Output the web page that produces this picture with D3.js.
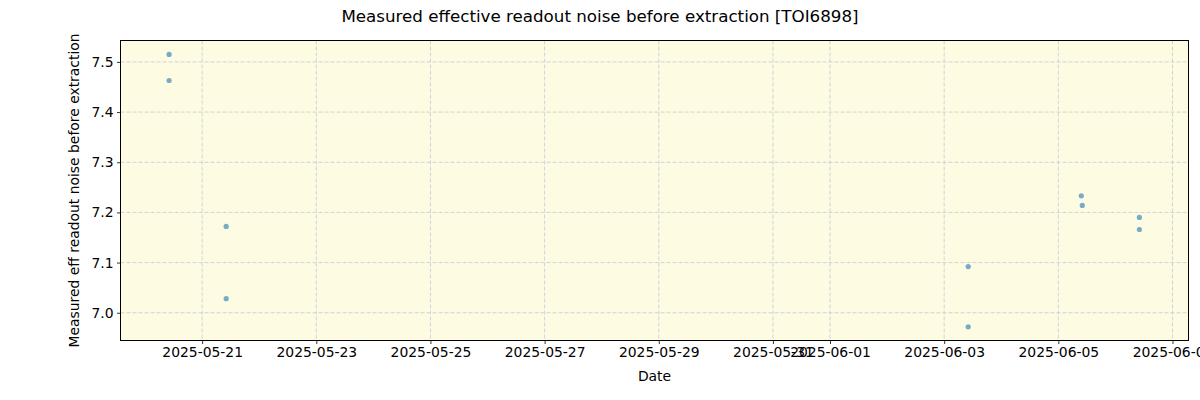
<html>
<head>
<script src="https://d3js.org/d3.v7.min.js"></script>
<style>
  body { margin: 0; background: #fff; }
  text { font-family: "DejaVu Sans", sans-serif; fill: #000; }
</style>
</head>
<body>
<div id="chart"></div>
<script>
    // observation times and measured values
    var times = [
        '2025-05-20T10:06', '2025-05-20T10:06',
        '2025-05-21T10:06', '2025-05-21T10:06',
        '2025-06-03T10:06', '2025-06-03T10:06',
        '2025-06-05T09:40', '2025-06-05T10:05',
        '2025-06-06T10:05', '2025-06-06T10:05'
    ];
    var noise = [7.515, 7.463, 7.172, 7.028, 7.092, 6.972, 7.233, 7.214, 7.190, 7.166];
    var xTicks = ['2025-05-21', '2025-05-23', '2025-05-25', '2025-05-27', '2025-05-29',
                  '2025-05-31', '2025-06-01', '2025-06-03', '2025-06-05', '2025-06-07'];
    var yTicks = [7.0, 7.1, 7.2, 7.3, 7.4, 7.5];

    var width = 1200, height = 400;
    var pLeft = 120.5, pRight = 1188.5, pTop = 40.5, pBottom = 340.5;

    var parse = d3.timeParse('%Y-%m-%dT%H:%M');
    var parseDay = d3.timeParse('%Y-%m-%d');

    var svg = d3.select('#chart').append('svg').attr('width', width).attr('height', height);

    var x = d3.scaleTime()
        .domain([parse('2025-05-19T13:40'), parse('2025-06-07T06:44')])
        .range([pLeft, pRight]);
    var y = d3.scaleLinear().domain([6.9447, 7.5427]).range([pBottom, pTop]);

    svg.append('rect').attr('x', pLeft).attr('y', pTop)
        .attr('width', pRight - pLeft).attr('height', pBottom - pTop)
        .attr('fill', '#fdfbe2');

    // grid
    svg.append('g').selectAll('line').data(xTicks).enter().append('line')
        .attr('x1', d => x(parseDay(d))).attr('x2', d => x(parseDay(d)))
        .attr('y1', pTop).attr('y2', pBottom)
        .attr('stroke', '#c8c8d4').attr('stroke-width', 0.8).attr('stroke-dasharray', '4,2');
    svg.append('g').selectAll('line').data(yTicks).enter().append('line')
        .attr('x1', pLeft).attr('x2', pRight)
        .attr('y1', d => y(d)).attr('y2', d => y(d))
        .attr('stroke', '#c8c8d4').attr('stroke-width', 0.8).attr('stroke-dasharray', '4,2');

    // points
    svg.append('g').selectAll('circle').data(noise).enter().append('circle')
        .attr('cx', (d, i) => x(parse(times[i])))
        .attr('cy', d => y(d))
        .attr('r', 2.6)
        .attr('fill', '#1f77b4').attr('fill-opacity', 0.6);

    // axes
    var xAxis = svg.append('g').attr('transform', `translate(0,${pBottom})`)
        .call(d3.axisBottom(x).tickValues(xTicks.map(parseDay))
            .tickFormat(d3.timeFormat('%Y-%m-%d')).tickSize(3.5).tickPadding(3.5));
    var yAxis = svg.append('g').attr('transform', `translate(${pLeft},0)`)
        .call(d3.axisLeft(y).tickValues(yTicks).tickFormat(d3.format('.1f'))
            .tickSize(3.5).tickPadding(3.5));
    [xAxis, yAxis].forEach(function(a) {
        a.select('.domain').remove();
        a.selectAll('text').style('font-size', '13.9px').style('font-family', '"DejaVu Sans", sans-serif');
        a.selectAll('line').attr('stroke', '#000').attr('stroke-width', 0.8);
    });

    svg.append('rect').attr('x', pLeft).attr('y', pTop)
        .attr('width', pRight - pLeft).attr('height', pBottom - pTop)
        .attr('fill', 'none').attr('stroke', '#000').attr('stroke-width', 1);

    svg.append('text').attr('x', 600).attr('y', 22)
        .attr('text-anchor', 'middle').style('font-size', '16.7px')
        .text('Measured effective readout noise before extraction [TOI6898]');
    svg.append('text').attr('x', (pLeft + pRight) / 2).attr('y', 381)
        .attr('text-anchor', 'middle').style('font-size', '13.9px')
        .text('Date');
    svg.append('text')
        .attr('transform', `translate(79,${(pTop + pBottom) / 2}) rotate(-90)`)
        .attr('text-anchor', 'middle').style('font-size', '13.9px')
        .text('Measured eff readout noise before extraction');
</script>
</body>
</html>
